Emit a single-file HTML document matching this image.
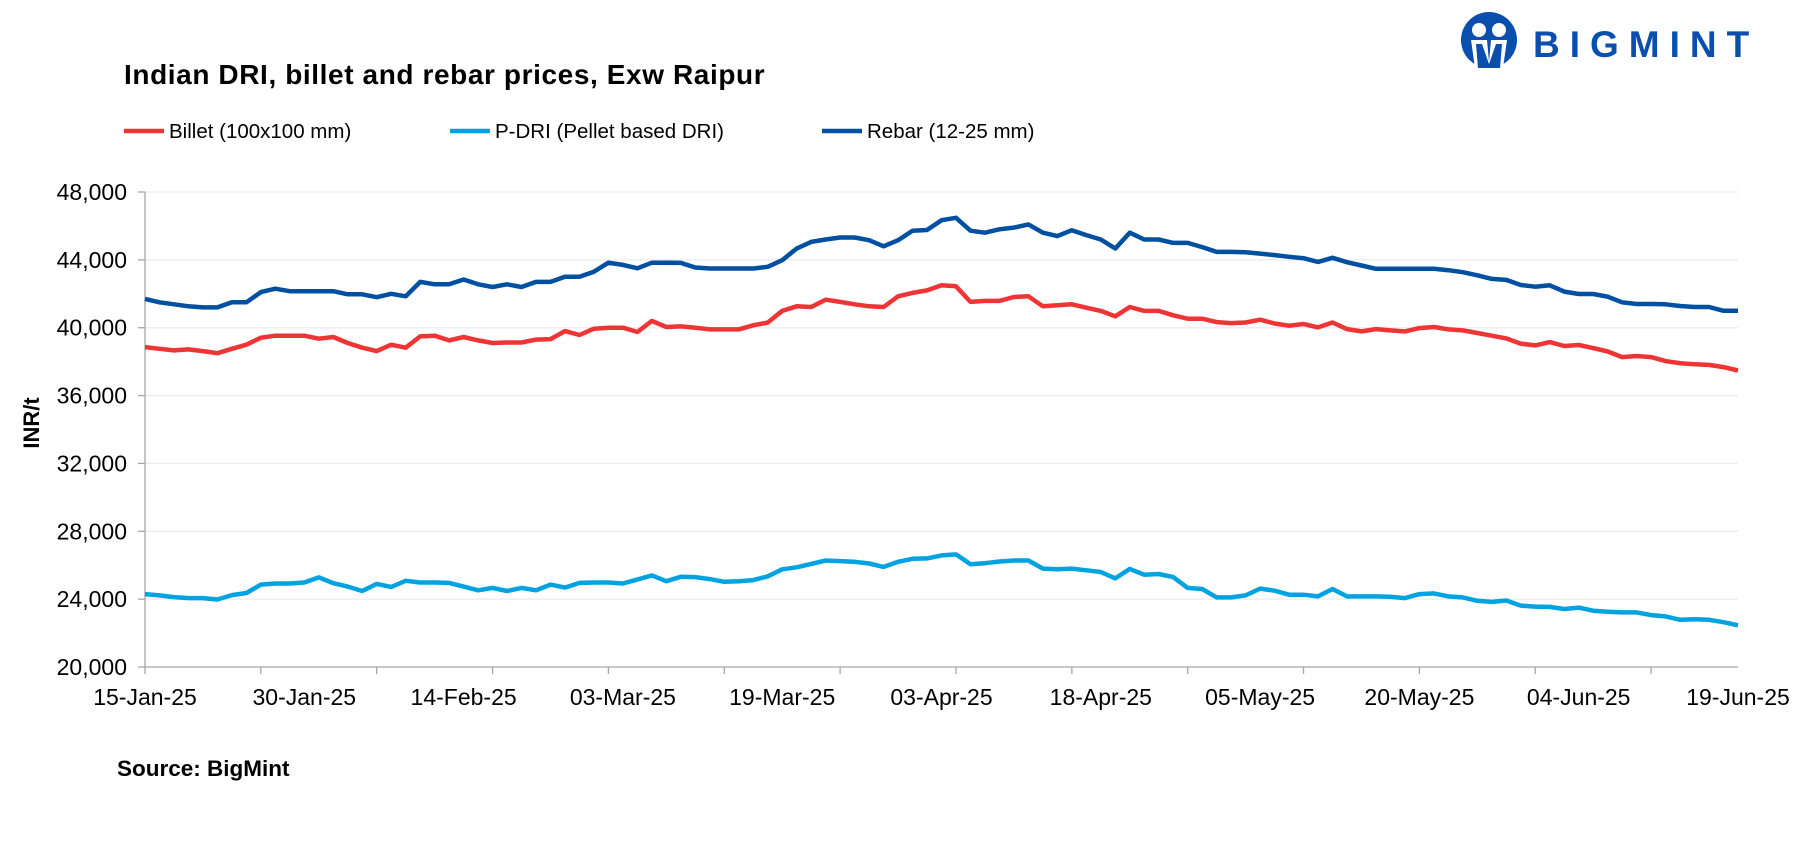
<!DOCTYPE html>
<html><head><meta charset="utf-8"><style>
body{margin:0;background:#fff;}
svg text{font-family:"Liberation Sans",Arial,sans-serif;}
</style></head><body>
<svg width="1803" height="848" viewBox="0 0 1803 848" xmlns="http://www.w3.org/2000/svg">
<rect width="1803" height="848" fill="#fff"/>
<text x="124" y="84" font-size="28" font-weight="bold" fill="#000" letter-spacing="0.6">Indian DRI, billet and rebar prices, Exw  Raipur</text>
<g>
<circle cx="1489" cy="40" r="28" fill="#0a4fae"/>
<circle cx="1479" cy="30" r="7" fill="#fff"/><circle cx="1499" cy="30" r="7" fill="#fff"/>
<path d="M1471 40 L1487 40 L1489 62 L1491 40 L1507 40 L1503 68 L1475 68 Z" fill="#fff"/>
<path d="M1476 44 L1482 44 L1489 64 L1496 44 L1502 44 L1500 68 L1478 68 Z" fill="#0a4fae"/>
<text x="1533" y="57" font-size="37" font-weight="bold" fill="#0a4fae" letter-spacing="10">BIGMINT</text>
</g>
<g id="legend"></g>
<g id="plot"></g>
<text transform="translate(39,423) rotate(-90)" text-anchor="middle" font-size="22" font-weight="bold">INR/t</text>
<text x="117" y="776" font-size="22.5" font-weight="bold">Source: BigMint</text>
</svg>
<script>
const xLabels=["15-Jan-25","30-Jan-25","14-Feb-25","03-Mar-25","19-Mar-25","03-Apr-25","18-Apr-25","05-May-25","20-May-25","04-Jun-25","19-Jun-25"];
const yTicks=[20000,24000,28000,32000,36000,40000,44000,48000];
const seriesNames=["Billet (100x100 mm)","P-DRI (Pellet based DRI)","Rebar (12-25 mm)"];
const billet=[38860,38760,38660,38720,38620,38500,38760,39000,39410,39530,39530,39530,39350,39450,39100,38820,38620,39000,38820,39490,39530,39250,39450,39250,39100,39130,39130,39300,39330,39800,39570,39940,40000,40000,39750,40400,40040,
40080,40000,39900,39900,39900,40140,40300,40990,41260,41220,41650,41520,41380,41260,41220,41850,42050,42200,42500,42440,41520,41580,41580,41810,41850,41260,41320,41380,41180,40990,40670,41220,40990,40990,40730,40530,
40530,40330,40270,40310,40470,40250,40120,40220,40020,40310,39920,39780,39920,39840,39780,39980,40040,39900,39840,39690,39530,39370,39060,38960,39150,38920,38980,38800,38600,38270,38330,38270,38030,37910,37850,37810,37680,37480];
const pdri=[24300,24220,24120,24060,24060,23980,24240,24360,24860,24920,24920,24980,25280,24940,24740,24480,24900,24720,25080,24980,24980,24960,24740,24520,24660,24480,24660,24520,24860,24680,24960,24980,24980,24920,25160,25400,25060,
25320,25300,25180,25020,25060,25120,25340,25760,25880,26080,26280,26240,26200,26100,25900,26200,26380,26400,26580,26640,26060,26120,26220,26280,26280,25800,25760,25800,25700,25600,25220,25780,25440,25480,25300,24660,
24600,24100,24100,24220,24620,24500,24260,24260,24160,24600,24160,24160,24160,24140,24060,24300,24340,24160,24100,23900,23840,23920,23620,23560,23540,23420,23500,23320,23260,23220,23220,23060,22980,22780,22820,22780,22640,22460];
const rebar=[41700,41500,41380,41260,41200,41200,41500,41500,42100,42300,42150,42150,42150,42150,41970,41970,41800,42000,41850,42700,42560,42560,42840,42560,42400,42560,42400,42700,42700,43000,43000,43300,43830,43700,43500,43830,43830,
43820,43550,43490,43490,43490,43490,43590,43980,44670,45060,45200,45320,45320,45160,44800,45160,45720,45760,46340,46480,45720,45600,45800,45900,46090,45600,45400,45750,45460,45200,44670,45600,45200,45200,45000,45000,
44750,44470,44470,44450,44370,44280,44180,44100,43880,44120,43860,43670,43470,43470,43470,43470,43470,43390,43270,43090,42880,42820,42520,42420,42500,42130,41990,41990,41830,41500,41400,41400,41380,41280,41220,41220,41000,41000];

const NS="http://www.w3.org/2000/svg";
const L=145,R=1738,T=192,B=667,yMin=20000,yMax=48000;
const n=rebar.length;
function xs(i){return L+(R-L)*i/(n-1);}
function ys(v){return B-(v-yMin)/(yMax-yMin)*(B-T);}
function mk(tag,attrs,parent){const e=document.createElementNS(NS,tag);for(const k in attrs)e.setAttribute(k,attrs[k]);parent.appendChild(e);return e;}
const plot=document.getElementById('plot');
yTicks.forEach(v=>{
  const y=ys(v);
  if(v>yMin){const g=mk('line',{x1:L,x2:R,y1:y,y2:y,stroke:'#eeeeee','stroke-width':1.5},plot);
  
  }
  const tk=mk('line',{x1:L-7,x2:L,y1:y,y2:y,stroke:'#a6a6a6','stroke-width':1.3},plot);
  
  
  const t=mk('text',{x:127,y:y+8,'text-anchor':'end','font-size':23,fill:'#000'},plot);
  t.textContent=v.toLocaleString('en-US');
  
  
});
const ya=mk('line',{x1:L,x2:L,y1:T,y2:B,stroke:'#a6a6a6','stroke-width':1.3},plot);


const xa=mk('line',{x1:L,x2:R,y1:B,y2:B,stroke:'#a6a6a6','stroke-width':1.3},plot);


for(let i=0;i<n;i+=8){
  const tk=mk('line',{x1:xs(i),x2:xs(i),y1:B,y2:B+7,stroke:'#a6a6a6','stroke-width':1.3},plot);
  
  
}
xLabels.forEach((lab,k)=>{
  const i=k*11;
  const t=mk('text',{x:xs(i),y:705,'text-anchor':'middle','font-size':23,fill:'#000'},plot);
  t.textContent=lab;
  
  
});
const colors=['#ee3434','#00a3e0','#0050a2'];
[billet,pdri,rebar].forEach((s,si)=>{
  const d=s.map((v,i)=>(i?'L':'M')+xs(i).toFixed(1)+' '+ys(v).toFixed(1)).join(' ');
  const p=mk('path',{d:d,fill:'none',stroke:colors[si],'stroke-width':4.5,'stroke-linejoin':'round'},plot);
  
  
});
const leg=document.getElementById('legend');
const lx=[124,450,822];
seriesNames.forEach((nm,si)=>{
  const g=mk('g',{},leg);
  
  
  mk('line',{x1:lx[si],x2:lx[si]+40,y1:131,y2:131,stroke:colors[si],'stroke-width':4.5},g);
  const t=mk('text',{x:lx[si]+45,y:138,'font-size':20.5,fill:'#000'},g);
  t.textContent=nm;
});
</script>
</body></html>
